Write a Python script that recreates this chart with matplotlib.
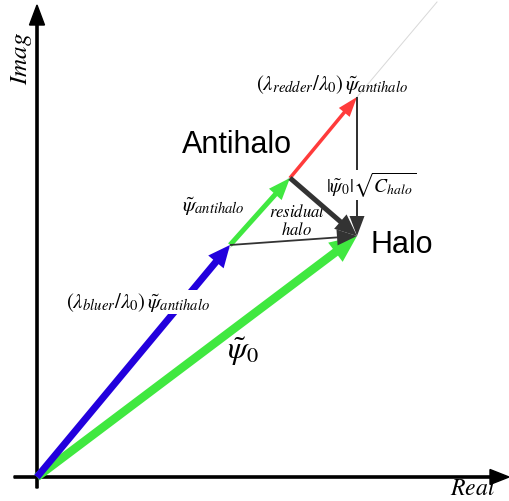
import numpy as np
import matplotlib.pyplot as plt

plt.rcParams['mathtext.fontset'] = 'stix'

# phasor endpoints (complex plane, arbitrary units)
psi0 = complex(3.20, 2.41)            # total field -> Halo
blue_tip = complex(1.93, 2.32)        # (lambda_bluer/lambda_0) psi_antihalo
antihalo_tip = complex(2.53, 2.99)    # psi_antihalo
red_tip = complex(3.20, 3.80)         # (lambda_redder/lambda_0) psi_antihalo
guide_end = red_tip * 1.25

# arrows: start, end, colour, shaft width, head width, head length
arrows = [
    (0, psi0, '#40e840', 0.085, 0.24, 0.27),
    (blue_tip, antihalo_tip, '#40e840', 0.05, 0.17, 0.22),
    (antihalo_tip, red_tip, '#ff3b3b', 0.035, 0.14, 0.2),
    (0, blue_tip, '#2200dd', 0.07, 0.2, 0.22),
    (antihalo_tip, psi0, '#333333', 0.05, 0.19, 0.22),
    (red_tip, psi0, '#333333', 0.02, 0.15, 0.2),
    (blue_tip, psi0, '#333333', 0.018, 0.16, 0.2),
]

fig = plt.figure(figsize=(5.09, 5.01), dpi=100)
ax = fig.add_axes([0, 0, 1, 1])
ax.set_xlim(-0.37, 4.72)
ax.set_ylim(-0.24, 4.77)
ax.axis('off')

# guide line through origin and red tip
ax.plot([0, guide_end.real], [0, guide_end.imag], color='#d8d8d8', lw=0.7, zorder=0)

# real / imaginary axes
ax.arrow(-0.23, 0, 4.95, 0, width=0.022, head_width=0.15, head_length=0.19,
         length_includes_head=True, color='black', zorder=1)
ax.arrow(0, -0.11, 0, 4.83, width=0.022, head_width=0.15, head_length=0.2,
         length_includes_head=True, color='black', zorder=1)

for i, (a, b, col, w, hw, hl) in enumerate(arrows):
    a = complex(a)
    d = b - a
    ax.arrow(a.real, a.imag, d.real, d.imag, width=w, head_width=hw,
             head_length=hl, length_includes_head=True, color=col, lw=0,
             zorder=2 + i)

white = dict(facecolor='white', edgecolor='none', pad=0.5)
ax.text(-0.15, 4.18, r'$Imag$', rotation=90, fontsize=18, ha='center', va='center')
ax.text(4.36, -0.11, r'$Real$', fontsize=17, ha='center', va='center')
ax.text(2.00, 3.32, 'Antihalo', fontsize=22, family='Liberation Sans',
        ha='center', va='center')
ax.text(3.65, 2.32, 'Halo', fontsize=22, family='Liberation Sans',
        ha='center', va='center')
ax.text(2.95, 3.92, r'$(\lambda_{redder}/\lambda_0)\,\tilde{\psi}_{antihalo}$',
        fontsize=15, ha='center', va='center')
ax.text(3.34, 2.92, r'$|\tilde{\psi}_0|\sqrt{C_{halo}}$', fontsize=14,
        ha='center', va='center', bbox=white, zorder=9)
ax.text(1.76, 2.70, r'$\tilde{\psi}_{antihalo}$', fontsize=15,
        ha='center', va='center')
ax.text(2.60, 2.56, '$residual$\n$halo$', fontsize=12, ha='center',
        va='center', linespacing=1.0)
ax.text(1.01, 1.75, r'$(\lambda_{bluer}/\lambda_0)\,\tilde{\psi}_{antihalo}$',
        fontsize=15, ha='center', va='center', bbox=white, zorder=9)
ax.text(2.06, 1.25, r'$\tilde{\psi}_0$', fontsize=23, ha='center', va='center')

fig.savefig('out.png', dpi=100)
